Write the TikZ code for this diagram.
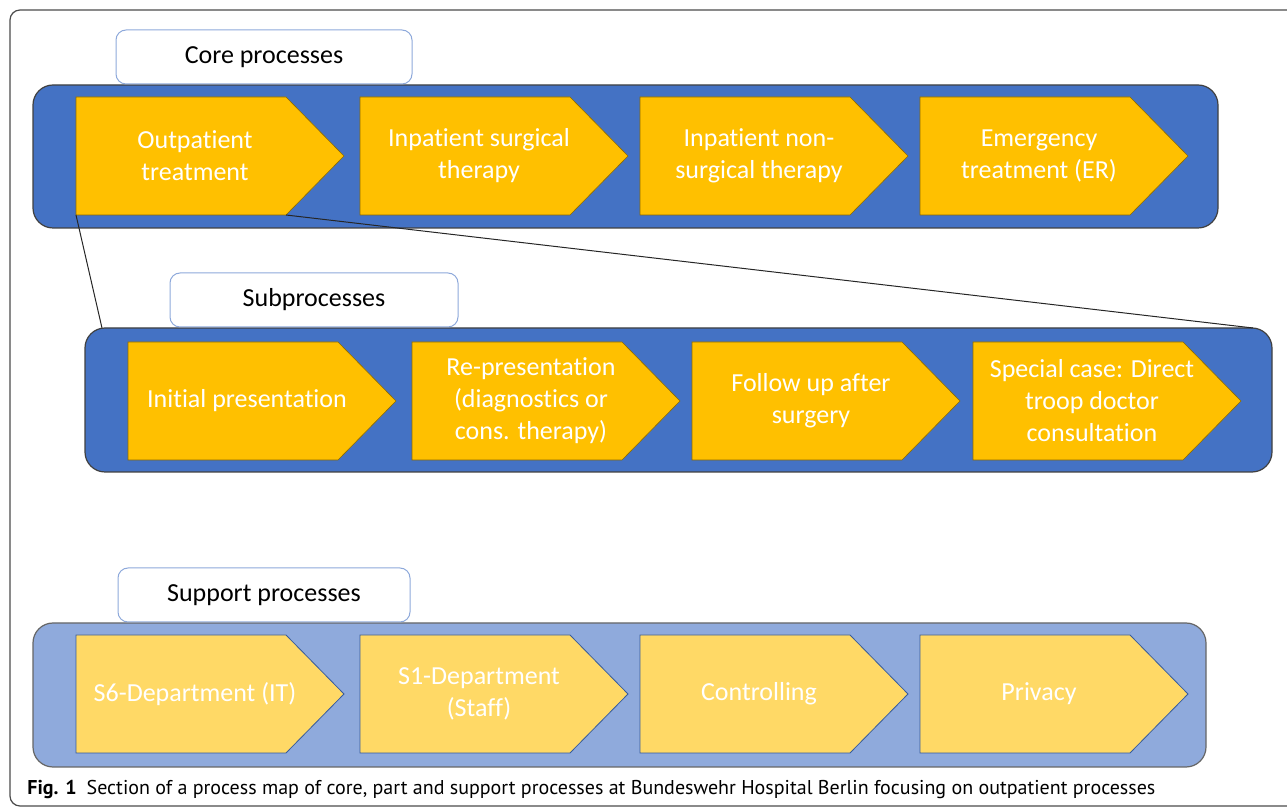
\documentclass[tikz,border=0pt]{standalone}
\usepackage{fontspec}
\setmainfont{Carlito}[Ligatures=NoCommon]
\newfontfamily\capfont{PT Sans}
\usepackage{tikz}
\usetikzlibrary{positioning}

\definecolor{coreblue}{HTML}{4472C4}
\definecolor{coreyellow}{HTML}{FFC000}
\definecolor{supblue}{HTML}{8FAADC}
\definecolor{supyellow}{HTML}{FFD966}
\definecolor{boxline}{HTML}{8EA9DB}

\tikzstyle{band} = [rounded corners=10pt, draw=black!75, line width=0.6pt]
\tikzstyle{labelbox} = [rounded corners=5pt, draw=boxline, fill=white, line width=0.5pt, minimum width=148pt, minimum height=27pt, font=\fontsize{13}{16}\selectfont]
\tikzstyle{chevtext} = [text=white, align=center, font=\fontsize{13}{16}\selectfont]
\tikzstyle{zoomline} = [draw=black!85, line width=0.5pt]

% chevron: style, name, left x, top y, text
\newcommand{\chevron}[5][]{%
  \filldraw[#1] (#3,#4) -- ++(210,0) -- ++(58,59) -- ++(-58,59) -- ++(-210,0) -- cycle;
  \coordinate (#2sw) at (#3,#4+118);
  \coordinate (#2se) at (#3+210,#4+118);
  \node(#2)[chevtext] at (#3+119,#4+59) {#5};
}

\begin{document}
\begin{tikzpicture}[x=0.5pt, y=-0.5pt]
  \useasboundingbox (0,0) rectangle (1287,807);
  \clip (0,0) rectangle (1287,807);

  %--Frame--%
  \draw[draw=black!70, line width=0.6pt, rounded corners=5pt] (10,10) rectangle (1320,806);

  %--Core processes--%
  \filldraw[band, fill=coreblue] (33,85) rectangle (1218,228);
  \node(corelbl)[labelbox] at (264,57) {Core processes};
  \chevron[fill=coreyellow, draw=black!45!coreyellow, line width=0.3pt]{out}{76}{97}{Outpatient\\treatment}
  \chevron[fill=coreyellow, draw=black!45!coreyellow, line width=0.3pt]{insurg}{360}{97}{Inpatient surgical\\therapy}
  \chevron[fill=coreyellow, draw=black!45!coreyellow, line width=0.3pt]{innon}{640}{97}{Inpatient non-\\surgical therapy}
  \chevron[fill=coreyellow, draw=black!45!coreyellow, line width=0.3pt]{emerg}{920}{97}{Emergency\\treatment (ER)}

  %--Subprocesses--%
  \filldraw[band, fill=coreblue] (85,328) rectangle (1272,472);
  \node(sublbl)[labelbox, minimum width=144pt] at (314,300) {Subprocesses};
  \coordinate (subnw) at (102,328);
  \coordinate (subne) at (1253,328);
  \chevron[fill=coreyellow, draw=black!45!coreyellow, line width=0.3pt]{initial}{128}{342}{Initial presentation}
  \chevron[fill=coreyellow, draw=black!45!coreyellow, line width=0.3pt]{repres}{412}{342}{Re-presentation\\(diagnostics or\\cons. therapy)}
  \chevron[fill=coreyellow, draw=black!45!coreyellow, line width=0.3pt]{follow}{692}{342}{Follow up after\\surgery}
  \chevron[fill=coreyellow, draw=black!45!coreyellow, line width=0.3pt]{special}{973}{342}{Special case: Direct\\troop doctor\\consultation}

  %--Zoom lines--%
  \draw[zoomline] (outsw) -- (subnw);
  \draw[zoomline] (outse) -- (subne);

  %--Support processes--%
  \filldraw[band, fill=supblue, draw=black!60] (33,623) rectangle (1206,767);
  \node(suplbl)[labelbox, minimum width=146pt] at (264,595) {Support processes};
  \chevron[fill=supyellow, draw=coreblue!80!black, line width=0.4pt]{sixdep}{76}{635}{S6-Department (IT)}
  \chevron[fill=supyellow, draw=coreblue!80!black, line width=0.4pt]{onedep}{360}{635}{S1-Department\\(Staff)}
  \chevron[fill=supyellow, draw=coreblue!80!black, line width=0.4pt]{control}{640}{635}{Controlling}
  \chevron[fill=supyellow, draw=coreblue!80!black, line width=0.4pt]{privacy}{920}{635}{Privacy}

  %--Caption--%
  \node(cap)[anchor=west, inner sep=0pt, font=\capfont\fontsize{10}{12}\selectfont] at (27,790) {\textbf{Fig. 1}\hspace{5pt}Section of a process map of core, part and support processes at Bundeswehr Hospital Berlin focusing on outpatient processes};
\end{tikzpicture}
\end{document}
